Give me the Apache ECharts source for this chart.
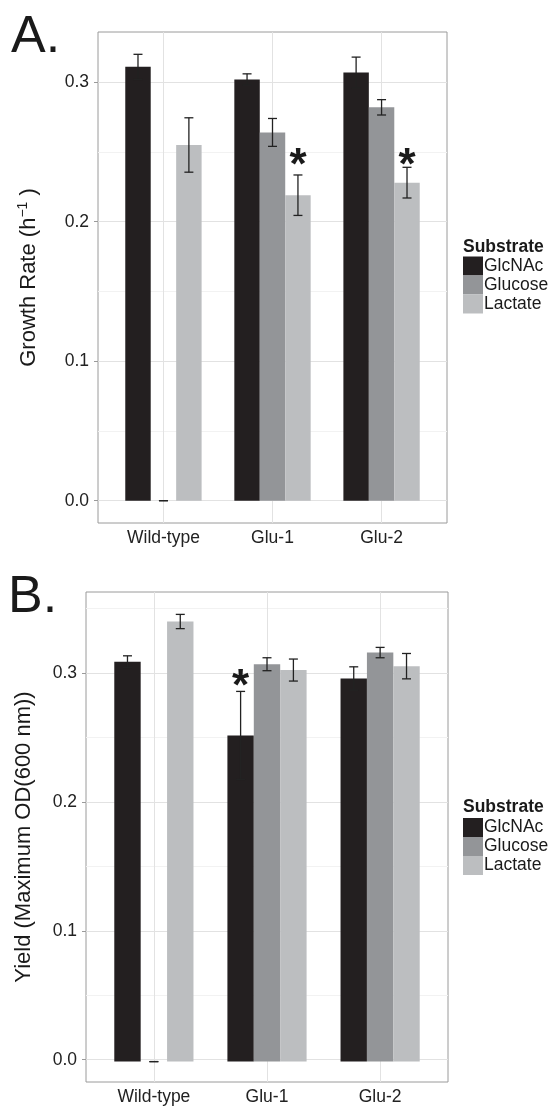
<!DOCTYPE html>
<html>
<head>
<meta charset="utf-8">
<script src="https://cdn.jsdelivr.net/npm/echarts@6/dist/echarts.min.js"></script>
<style>html,body{margin:0;padding:0;background:#fff}#chart{width:550px;height:1106px}</style>
</head>
<body>
<div id="chart"></div>
<script>
// Growth rate and yield per strain / substrate
const strains = ['Wild-type', 'Glu-1', 'Glu-2'];
const substrates = ['GlcNAc', 'Glucose', 'Lactate'];
const colors = ['#231f20', '#939598', '#bcbec0'];

// panel A - growth rate (h^-1)
const growthGlcNAc = [0.311, 0.302, 0.307];
const growthGlucose = [0, 0.264, 0.282];
const growthLactate = [0.255, 0.219, 0.228];
const growthErrGlcNAc = [0.009, 0.004, 0.011];
const growthErrGlucose = [0, 0.010, 0.0055];
const growthErrLactate = [0.0195, 0.0145, 0.011];
const growthStarGlcNAc = [null, null, null];
const growthStarGlucose = [null, null, null];
const growthStarLactate = [null, 0.247, 0.247];

// panel B - yield (max OD600)
const yieldGlcNAc = [0.309, 0.252, 0.296];
const yieldGlucose = [0, 0.307, 0.316];
const yieldLactate = [0.340, 0.3025, 0.3055];
const yieldErrGlcNAc = [0.0045, 0.034, 0.009];
const yieldErrGlucose = [0, 0.005, 0.004];
const yieldErrLactate = [0.0055, 0.0085, 0.0098];
const yieldStarGlcNAc = [null, 0.297, null];
const yieldStarGlucose = [null, null, null];
const yieldStarLactate = [null, null, null];

const yTicks = [0, 0.1, 0.2, 0.3];
const yMinorTicks = [0.05, 0.15, 0.25, 0.35];
const strainPos = [1, 2, 3];

const FONT = '"Liberation Sans", Arial, Helvetica, sans-serif';
const chart = echarts.init(document.getElementById('chart'));

const panels = [
    {
        letter: 'A.', letterLeft: 11, letterTop: 12,
        left: 98, top: 32, width: 349, height: 491, min: -0.016, max: 0.336,
        yName: '{a|Growth Rate (h}{b|\u22121}{a| )}', nameGap: 56,
        means: [growthGlcNAc, growthGlucose, growthLactate],
        errs: [growthErrGlcNAc, growthErrGlucose, growthErrLactate],
        stars: [growthStarGlcNAc, growthStarGlucose, growthStarLactate],
        titleTop: 238, legendTop: 256.5
    },
    {
        letter: 'B.', letterLeft: 8, letterTop: 572,
        left: 86, top: 592, width: 362, height: 492, min: -0.0173, max: 0.3628,
        yName: '{a|Yield (Maximum OD(600 nm))}', nameGap: 49,
        means: [yieldGlcNAc, yieldGlucose, yieldLactate],
        errs: [yieldErrGlcNAc, yieldErrGlucose, yieldErrLactate],
        stars: [yieldStarGlcNAc, yieldStarGlucose, yieldStarLactate],
        titleTop: 798.5, legendTop: 818
    }
];

const option = {
    animation: false,
    textStyle: { fontFamily: FONT },
    title: [], legend: [], grid: [], xAxis: [], yAxis: [], series: []
};

panels.forEach((p, k) => {
    const g = k * 2;
    const pad = p.width * 0.1 / 3.2; // ggplot's 0.6 expansion vs echarts' 0.5 band

    option.title.push({ text: p.letter, left: p.letterLeft, top: p.letterTop, padding: 0,
        textStyle: { fontSize: 52, fontWeight: 'normal', color: '#1a1a1a', fontFamily: FONT } });
    option.title.push({ text: 'Substrate', left: 463, top: p.titleTop, padding: 0,
        textStyle: { fontSize: 17.5, fontWeight: 'bold', color: '#1a1a1a', fontFamily: FONT } });

    option.legend.push({
        orient: 'vertical', left: 463, top: p.legendTop, padding: 0, itemGap: 0,
        itemWidth: 20, itemHeight: 19, icon: 'rect', selectedMode: false, data: substrates,
        textStyle: { fontSize: 17.5, color: '#1a1a1a', lineHeight: 19, fontFamily: FONT,
            padding: [0, 0, 0, -4] }
    });

    // frame grid (border, ticks, labels) and bar grid
    option.grid.push({ left: p.left, top: p.top, width: p.width, height: p.height,
        show: true, borderColor: '#9a9a9a', borderWidth: 1 });
    option.grid.push({ left: p.left + pad, top: p.top, width: p.width - 2 * pad, height: p.height });

    option.xAxis.push({
        type: 'value', gridIndex: g, min: 0.4, max: 3.6,
        axisLine: { show: false }, splitLine: { show: false },
        axisTick: { customValues: strainPos, length: 4, lineStyle: { color: '#9a9a9a' } },
        axisLabel: { customValues: strainPos, margin: 6, fontSize: 17.5, color: '#222',
            fontFamily: FONT, formatter: v => strains[Math.round(v) - 1] }
    });
    option.xAxis.push({ type: 'category', gridIndex: g + 1, data: strains, show: false });

    option.yAxis.push({
        type: 'value', gridIndex: g, min: p.min, max: p.max,
        axisLine: { show: false }, splitLine: { show: false },
        axisTick: { customValues: yTicks, length: 4, lineStyle: { color: '#9a9a9a' } },
        axisLabel: { customValues: yTicks, margin: 9, fontSize: 17.5, color: '#222',
            fontFamily: FONT, formatter: v => v.toFixed(1) },
        name: p.yName, nameLocation: 'middle', nameGap: p.nameGap,
        nameTextStyle: { rich: {
            a: { fontSize: 22, lineHeight: 26, color: '#1a1a1a', fontFamily: FONT },
            b: { fontSize: 14, lineHeight: 14, verticalAlign: 'top', color: '#1a1a1a', fontFamily: FONT }
        } }
    });
    option.yAxis.push({ type: 'value', gridIndex: g + 1, min: p.min, max: p.max, show: false });

    // grid lines
    const lines = [];
    yTicks.forEach(v => lines.push({ yAxis: v, lineStyle: { color: '#e2e2e2', type: 'solid', width: 1 } }));
    yMinorTicks.filter(v => v < p.max).forEach(v =>
        lines.push({ yAxis: v, lineStyle: { color: '#f2f2f2', type: 'solid', width: 1 } }));
    strainPos.forEach(v => lines.push({ xAxis: v, lineStyle: { color: '#e2e2e2', type: 'solid', width: 1 } }));
    option.series.push({
        type: 'line', xAxisIndex: g, yAxisIndex: g, data: [], silent: true,
        markLine: { silent: true, symbol: ['none', 'none'], z: 1, label: { show: false },
            emphasis: { disabled: true }, data: lines }
    });

    substrates.forEach((s, i) => {
        option.series.push({
            type: 'bar', name: s, xAxisIndex: g + 1, yAxisIndex: g + 1, z: 2,
            data: p.means[i], barGap: '0%', barCategoryGap: '30%',
            itemStyle: { color: colors[i] }, silent: true
        });
    });

    const rows = [];
    p.means.forEach((arr, i) => arr.forEach((m, c) => {
        rows.push([c, i, m, p.errs[i][c], p.stars[i][c] == null ? '-' : p.stars[i][c]]);
    }));
    option.series.push({
        type: 'custom', xAxisIndex: g + 1, yAxisIndex: g + 1, z: 3, silent: true,
        encode: { x: 0, y: 2 }, data: rows,
        renderItem: (params, api) => {
            const c = api.value(0), i = api.value(1), m = api.value(2), e = api.value(3);
            const star = api.value(4);
            const band = api.size([1, 0])[0];
            const x = api.coord([c, 0])[0] + (i - 1) * band * 0.7 / 3;
            const yHi = api.coord([c, m + e])[1];
            const yLo = api.coord([c, m - e])[1];
            const w = 4.5;
            const st = { stroke: '#222', lineWidth: 1.3 };
            const children = [
                { type: 'line', shape: { x1: x, y1: yHi, x2: x, y2: yLo }, style: st },
                { type: 'line', shape: { x1: x - w, y1: yHi, x2: x + w, y2: yHi }, style: st },
                { type: 'line', shape: { x1: x - w, y1: yLo, x2: x + w, y2: yLo }, style: st }
            ];
            if (!isNaN(star)) {
                children.push({ type: 'text', style: {
                    text: '*', x: x, y: api.coord([c, star])[1] + 11,
                    fontSize: 44, fontWeight: 'bold', fontFamily: FONT, fill: '#1a1a1a',
                    align: 'center', verticalAlign: 'middle' } });
            }
            return { type: 'group', children: children };
        }
    });
});

chart.setOption(option);
</script>
</body>
</html>
